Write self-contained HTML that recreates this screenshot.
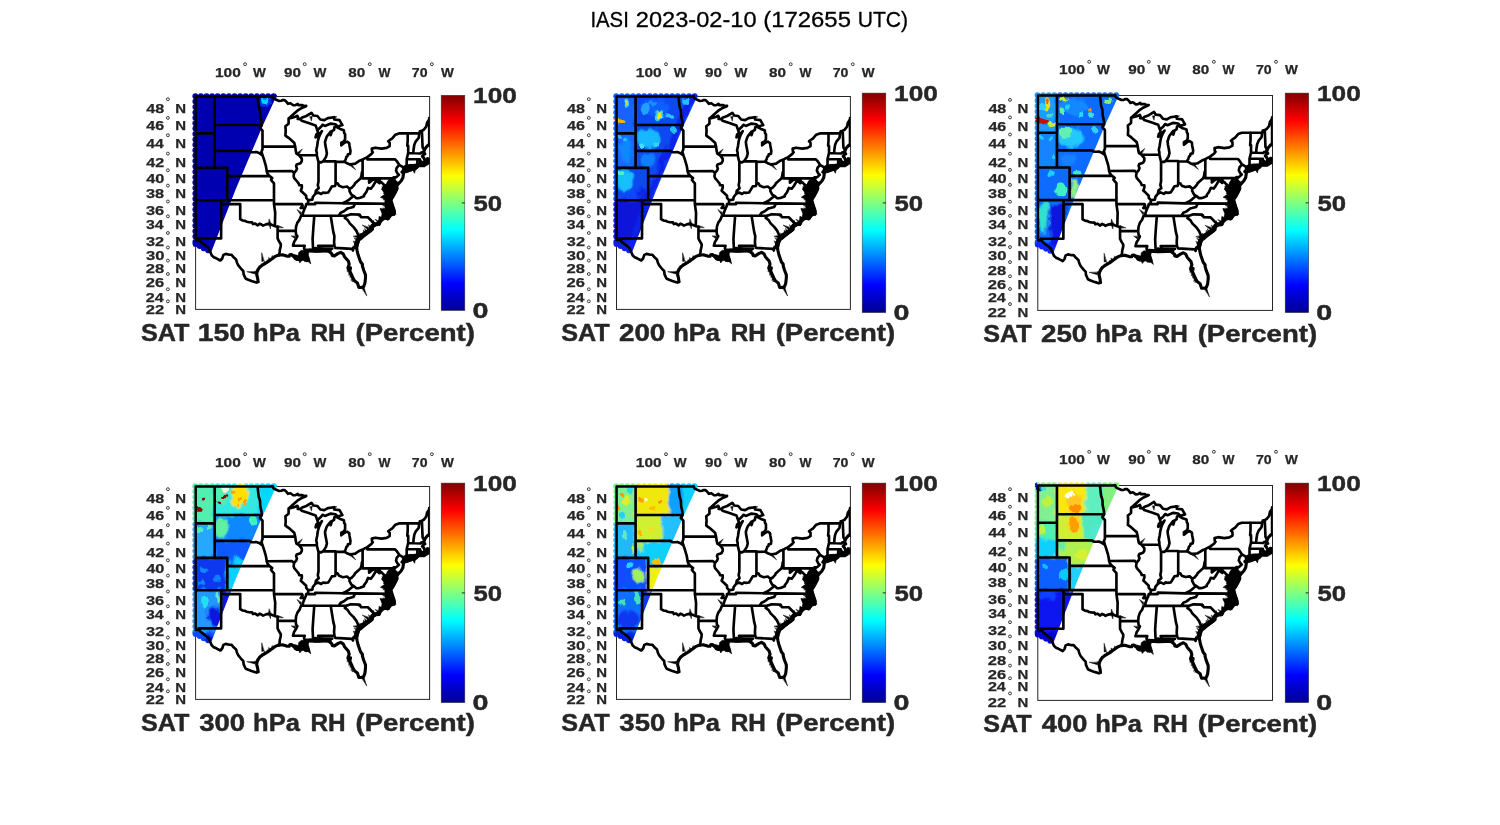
<!DOCTYPE html>
<html><head><meta charset="utf-8"><title>IASI</title>
<style>
html,body{margin:0;padding:0;background:#fff;}
body{width:1500px;height:825px;overflow:hidden;font-family:"Liberation Sans",sans-serif;}
svg{display:block;font-family:"Liberation Sans",sans-serif;}
.b{font-weight:bold;fill:#262626;stroke:#262626;stroke-width:0.45px;stroke-linejoin:round;}
.s{font-weight:bold;fill:#262626;stroke:#262626;stroke-width:0.25px;}
.t{fill:#000;stroke:#000;stroke-width:0.3px;}
</style></head><body>
<svg width="1500" height="825" viewBox="0 0 1500 825">
<defs>
<linearGradient id="jet" x1="0" y1="1" x2="0" y2="0">
<stop offset="0" stop-color="#00008f"/>
<stop offset="0.125" stop-color="#0000ff"/>
<stop offset="0.375" stop-color="#00ffff"/>
<stop offset="0.625" stop-color="#ffff00"/>
<stop offset="0.875" stop-color="#ff0000"/>
<stop offset="1" stop-color="#800000"/>
</linearGradient>
<clipPath id="clip"><rect x="194.3" y="95.0" width="235.3" height="214.4"/></clipPath>
<g id="map" clip-path="url(#clip)"><g fill="none" stroke="#000" stroke-linejoin="round" stroke-linecap="round"><path d="M195.6 96.5 270.6 96.5M195.6 96.5 195.6 240.0M429.2 118.1 429.2 145.7M195.6 133.4 214.7 133.4M214.7 96.5 214.7 167.8M214.7 125.0 261.8 125.0M214.7 150.9 249.6 150.9 251.5 152.2 253.7 152.2 256.5 152.1 259.0 152.9 260.9 154.3 262.5 155.3M195.6 167.8 227.3 167.8M227.3 167.8 227.3 200.2M227.3 176.1 269.6 176.1M195.6 200.2 274.0 200.2M221.3 200.2 221.1 238.4M221.3 204.1 240.2 204.1M240.2 204.1 240.2 219.1M220.9 238.4 198.6 238.4M195.6 240.0 199.1 240.0M198.6 238.4 199.3 240.1 201.2 242.3 205.0 245.1 208.7 248.2 210.6 252.7 211.9 255.6 213.8 257.2 216.3 258.3 220.4 260.5 222.2 258.5 223.4 254.9 225.7 253.9 229.5 254.7 231.4 254.7 233.9 257.6 236.1 259.5 237.0 262.7 238.3 265.4 241.7 269.5 243.3 271.0 243.6 274.1 245.2 277.7 245.9 278.7 248.3 279.8 251.5 281.0 254.6 281.9 256.5 282.6 258.1 281.8M278.9 255.2 279.6 252.7 279.8 250.1 280.7 246.5 280.8 244.3 279.0 241.3 277.6 238.4 277.6 226.8 274.9 226.1M240.2 219.1 242.7 220.5 245.2 220.9 246.8 221.8 249.0 222.2 252.1 222.4 253.0 224.1 254.9 223.5 257.8 225.3 259.6 223.7 261.5 224.5 263.1 225.6 265.9 224.4 268.1 223.9 270.0 224.1 272.8 225.3 274.9 226.1M274.9 226.1 275.2 212.7 274.0 204.1 274.0 200.2 274.0 183.4 272.2 181.4 271.0 179.8 272.2 178.1 269.6 176.1 267.5 173.6 266.7 171.3 266.2 167.8 265.7 165.3 264.7 161.9 263.4 157.7 262.5 155.3 261.5 151.7 262.5 149.2 262.5 146.6 262.5 130.7 260.0 128.0 261.8 125.0 261.5 121.7 260.3 116.2 260.0 110.7 258.7 106.5 258.1 101.3 257.6 96.5M262.5 146.6 295.3 146.6M266.7 171.3 292.1 171.1 294.1 173.0M274.0 204.1 302.1 204.1 302.6 205.7 300.7 208.0 304.9 208.0M277.6 230.8 295.7 230.9M295.7 230.9 296.1 234.6 297.4 236.1 295.5 239.8 294.2 241.7 293.0 245.7 304.7 245.7 304.0 248.3 305.5 251.8M314.3 215.7 313.4 227.1 312.6 239.1 313.1 250.3M330.7 215.7 333.3 231.9 334.4 236.1 334.1 242.1 334.4 245.7 335.3 247.9 352.0 248.9 353.0 250.5 353.3 247.6 356.7 247.8M334.4 245.7 318.1 245.7 319.4 248.3 318.7 250.9M301.1 215.7 346.4 215.7M306.2 204.1 315.2 204.1 315.2 202.7 342.7 203.3 355.3 203.4 391.8 203.7M355.3 203.4 353.3 207.0 349.5 208.0 347.6 208.4 343.9 211.3 340.7 212.7 338.7 215.7M346.4 215.7 350.8 214.2 359.3 214.6 359.3 215.5 360.0 215.0 361.0 217.1 367.9 217.3 375.0 224.5M346.4 215.7 344.8 218.0 347.6 219.9 349.8 223.4 353.6 227.1 356.4 230.9 358.6 235.8 360.4 238.1M289.8 117.6 288.6 118.4 288.6 123.8 285.4 126.2 285.7 130.7 285.4 135.6 288.6 137.8 291.1 140.0 294.2 142.7 295.2 146.6 295.8 150.9 296.4 153.5 299.0 155.1 301.8 158.6 301.8 161.1 300.5 163.2 296.7 164.5 296.1 166.1 297.0 168.6 296.1 170.7 294.1 173.0 293.6 176.1 294.2 178.1 296.7 181.0 298.6 183.4 299.2 185.2 301.8 185.4 301.9 187.5 300.8 190.7 303.0 192.7 306.2 195.8 306.2 197.8 308.4 200.3 308.0 203.3 306.2 204.1 305.8 206.1 304.9 208.0 303.3 211.9 302.6 214.7 301.1 215.7 299.6 219.6 297.4 222.6 296.1 226.4 295.7 230.9M299.0 155.1 316.8 155.2M318.5 161.9 318.5 181.4 317.8 185.0 318.7 188.3 315.9 190.7 315.3 193.9M323.0 161.4 335.6 161.4 335.6 161.9 344.2 161.7M335.6 161.9 335.6 183.4M362.6 170.8 361.8 172.8 361.5 175.7 360.5 178.5 357.1 181.4 354.9 183.4 354.5 184.6 352.0 187.5 349.6 188.9 347.0 186.5 342.9 187.2 339.1 185.8 337.6 183.4 335.6 183.4 335.1 186.0 331.9 186.4 329.7 190.1 328.2 192.5 325.0 192.9 323.1 192.5 321.2 194.0 318.1 192.5 315.3 193.9 312.8 197.0 312.4 199.6 308.4 200.3M362.6 159.6 362.6 178.4M362.6 178.4 392.3 178.4M349.6 188.9 349.5 191.1 351.4 194.7 353.5 195.9M353.5 195.9 348.9 199.8 346.4 201.4 342.7 203.3M353.5 195.9 356.4 198.2 358.3 198.2 360.2 197.8 364.0 196.2 364.0 195.1 366.2 192.3 368.1 187.9 370.9 188.7 373.0 186.0 376.2 180.6 379.5 183.1 380.2 181.6M380.2 181.6 379.1 179.4 376.5 179.1 373.7 179.5 371.8 180.4 369.1 182.6 369.1 178.4M380.2 181.6 381.9 182.6 383.5 184.5 384.5 185.8 382.8 189.1 384.7 189.9 389.1 192.7M270.6 96.5 272.8 96.2 273.5 98.4 276.3 99.8 279.1 101.0 281.3 100.8 282.9 100.0 284.5 100.1 286.4 101.7 287.9 103.8 290.4 103.2 293.3 105.3 295.5 105.1 297.7 103.8 298.3 105.1 302.4 105.1 304.0 106.0 306.2 105.9 305.5 106.5 301.1 108.3 297.4 110.7 294.8 113.0 292.3 115.3 289.8 117.6 290.4 118.1 295.5 116.7 297.4 115.8 298.3 118.1 297.7 119.0 300.4 119.2M318.5 161.9 318.1 160.7 316.8 155.2 316.8 152.6 316.2 150.5 317.2 145.7 317.8 141.3 318.7 137.8 320.0 134.7 321.9 131.2 319.4 134.3 317.5 136.5 315.6 137.4 316.2 134.7 318.1 132.5M318.5 161.9 321.2 162.4 323.0 161.4M344.2 161.7 345.7 159.4 346.4 156.9 347.6 156.0 347.9 154.3 350.1 153.9 350.5 150.9 349.5 145.7 349.2 143.1 347.0 141.6 344.5 142.7 341.3 145.3 341.3 142.7 343.9 141.3 345.1 139.2 345.1 134.3 344.2 133.0 343.9 130.3 340.1 128.9 337.6 127.6 336.0 126.4 334.4 127.1 334.1 129.8 331.9 131.2 330.7 135.2 331.3 133.4 330.7 131.6 328.5 134.3 327.5 135.6 326.6 136.9 325.0 141.8 325.3 144.8 326.3 150.0 326.9 153.5 326.0 156.9 324.4 159.4 323.0 161.4M344.2 161.7 346.4 162.8 347.6 163.6 350.1 164.5 355.2 163.6 359.6 160.7 362.6 159.6 365.2 158.1 367.4 157.1 371.5 153.9 372.8 152.2 372.1 151.7 371.8 148.6 375.3 147.7 381.6 148.6 386.6 147.9 389.7 146.1 389.7 142.7 388.2 141.3 389.1 140.5 392.3 138.3 395.4 134.7 399.0 133.4 419.3 133.3 419.9 131.2 421.9 130.7 423.7 129.8 426.2 126.7 427.1 122.6 428.4 120.8 429.7 118.1M367.4 157.1 367.4 159.4 395.1 159.4 396.7 161.1 399.2 164.8 396.7 167.8 396.0 170.7 397.6 173.6 398.9 174.8 396.7 176.9 394.8 177.7 393.5 177.4 392.3 178.4 392.9 188.6 397.0 188.7M399.2 164.8 404.2 167.8 403.4 170.7M413.3 153.2 413.6 149.2 414.3 144.8 415.8 141.3 418.7 137.8 419.3 133.3M407.7 133.3 407.7 140.5 407.3 145.7 408.2 145.7 408.2 153.0 406.7 159.0 406.7 165.3 405.3 167.0 405.8 167.8M408.2 153.0 420.5 153.5 421.2 152.6 423.6 152.0M406.7 159.0 417.4 159.2 420.0 159.2 420.0 160.3 421.2 161.9 421.7 163.6M417.4 159.2 417.4 164.5 417.1 165.1M424.3 150.3 422.6 147.4 421.9 130.7M300.4 119.2 301.6 117.8 306.3 116.0 311.5 112.8 313.3 115.5 317.4 116.0 320.3 119.5 324.3 120.1 327.8 118.1 334.2 117.2 334.2 119.5 339.5 120.1 342.4 125.1 337.7 126.5M317.9 129.7 320.8 127.1 322.6 124.8 324.9 125.9 330.7 123.6 335.4 124.2 337.7 126.5M300.4 119.2 301.6 120.7 308.6 123.0 315.6 125.4 318.1 132.5" stroke-width="2.65"/><path d="M258.1 281.8 257.6 278.0 256.7 274.5 257.1 271.7 258.7 268.6 260.3 266.7 262.8 264.8 265.3 263.3 268.4 261.5 271.0 259.5 273.3 257.9 274.7 256.7 277.2 255.6 278.9 255.2M278.9 255.2 282.3 254.7 286.7 256.1 289.2 256.3 289.8 254.8 291.4 254.5 293.0 255.9 294.5 256.7 295.2 258.5 297.4 259.5 300.5 259.5 302.4 259.2 303.6 258.1 305.5 258.5 306.8 260.6 308.4 260.3 307.7 258.1 306.2 255.9 306.8 254.5 307.4 252.7 305.5 251.8 307.4 250.9 309.9 250.1 313.1 250.3 315.0 251.2 315.3 248.3 316.2 248.3 317.2 250.9 318.7 251.0 320.6 250.6 325.0 250.3 328.2 250.9 330.0 252.3 331.9 253.8 332.2 255.4 334.4 255.9 338.2 253.4 340.7 252.3 343.2 253.8 344.5 256.7 346.7 259.2 348.3 261.0 349.2 264.2 347.9 268.1 348.9 269.9 350.5 267.8 349.8 271.0 351.7 275.2 353.0 278.0 354.5 280.8 357.4 282.9 358.9 287.5 360.2 287.5 363.3 287.1 364.0 285.7 364.9 283.3 365.5 278.0 365.5 274.9 363.7 270.3 362.4 266.0 362.4 264.2 360.5 261.7 358.0 254.5 357.1 250.5 356.7 247.8 357.1 245.0 358.0 242.1 358.9 239.5 360.4 238.1 363.0 235.8 366.2 233.2 370.3 230.2 371.2 228.7 372.5 226.0 375.0 224.5 378.7 224.5 379.7 221.8 383.5 218.8 386.9 218.0 387.7 218.8 391.0 215.0 394.0 214.0 394.3 211.1 392.9 207.2 391.8 203.7 391.0 200.7 389.1 200.6 388.8 199.4 389.1 195.8 389.1 193.1 388.5 189.9 387.9 185.0 388.2 182.6 390.4 179.8 391.3 180.2 389.7 184.2 389.1 187.5 391.0 190.7 391.9 192.7 391.3 196.2 391.0 199.0 391.6 198.6 393.5 195.4 395.4 192.3 397.0 188.7 396.7 185.8 394.8 182.6 393.8 180.2 394.1 178.5 394.8 177.7M394.1 180.2 395.4 181.8 397.6 184.8 401.1 181.0 402.9 177.7 403.6 172.8 402.0 172.0 403.3 170.7 403.9 169.5 405.8 167.8 409.2 166.6 410.5 165.7 414.3 165.6 417.1 165.1 419.3 164.7 419.9 164.1 419.9 161.1 421.2 163.6 421.7 163.6 423.1 163.2 424.6 161.5 424.6 163.2 428.7 162.2 429.0 161.9 429.0 159.8 428.4 159.0 427.5 158.7 428.4 160.3 428.7 161.1 425.6 161.4 424.6 159.4 423.4 157.3 422.4 156.4 423.4 154.7 424.9 153.9 423.7 152.2 424.3 150.3 425.3 148.3 427.5 145.7 429.7 144.4M403.6 171.3 408.0 170.9 413.0 169.1 416.8 167.4 414.3 167.0 412.4 168.2 409.9 168.1 406.1 168.6 404.8 169.5 403.6 171.3" stroke-width="3.1"/><path d="M371.6 229.2 365.7 233.2 359.9 236.7 357.6 240.8 355.8 247.2" stroke-width="4.6"/><path d="M306.1 250.4 316.6 250.7 329.9 250.4" stroke-width="4.0"/><path d="M318.5 248.3 325.0 248.5 332.3 248.6" stroke-width="2.6"/><path d="M360.4 238.1 363.0 235.8 366.2 233.2 370.3 230.2 371.2 228.7 372.5 226.0 375.0 224.5" stroke-width="4.4"/><path d="M261.7 253.1L261.8 261.4L263.9 261.1ZM247.1 271.8L255.1 274.0L255.4 271.8ZM269.0 219.2L268.6 223.7L270.8 223.4ZM270.5 228.4L270.8 223.4L268.6 223.8ZM283.1 227.5L277.5 225.4L277.1 227.6ZM366.7 295.7L363.9 287.1L361.9 288.1ZM355.5 169.5L350.5 162.9L348.9 164.4ZM302.0 149.2L297.3 152.8L299.0 154.3ZM297.2 209.8L300.3 214.5L301.8 212.9ZM291.5 236.1L294.7 238.4L295.4 236.3ZM362.5 225.3L367.7 229.5L368.8 227.6ZM353.5 236.4L357.5 237.8L357.7 235.6ZM311.5 120.7L312.2 116.5L310.0 116.7ZM336.6 116.7L332.8 116.4L333.3 118.6ZM353.2 246.2L356.3 248.8L357.2 246.8ZM353.8 242.7L356.3 246.2L357.7 244.5ZM353.3 241.3L357.1 244.4L358.1 242.5ZM354.2 238.1L357.6 242.1L359.0 240.4ZM359.5 235.2L358.4 239.0L360.6 238.9ZM359.8 233.2L360.7 237.5L362.7 236.4ZM363.5 230.3L363.2 234.9L365.4 234.5ZM364.7 228.7L365.6 233.3L367.6 232.3ZM368.3 228.8L367.9 231.4L370.0 230.8ZM368.6 225.1L370.3 229.3L372.1 228.0ZM373.5 220.8L371.8 225.6L374.0 225.9ZM377.5 221.8L374.3 223.8L375.9 225.2ZM380.4 222.6L377.8 223.7L379.4 225.3ZM375.3 219.6L378.7 223.5L380.1 221.8ZM380.8 217.6L379.9 220.9L382.1 220.6ZM382.3 215.8L382.1 219.3L384.2 218.7ZM382.6 213.8L384.6 217.3L386.1 215.7ZM382.8 212.4L386.3 214.3L386.8 212.2ZM382.9 208.2L385.1 210.8L386.2 208.8ZM382.9 205.6L386.8 207.5L387.3 205.4ZM384.0 204.1L386.6 205.4L386.7 203.2ZM385.9 200.2L386.8 202.3L388.1 200.6ZM383.3 199.8L387.7 200.2L387.3 198.1ZM382.6 196.8L386.7 196.9L386.2 194.8ZM383.5 193.5L385.7 194.8L385.9 192.6ZM383.2 190.5L384.8 192.8L385.9 190.9ZM382.0 187.0L384.7 190.3L386.0 188.6ZM383.2 184.6L384.8 187.7L386.3 186.2ZM347.6 271.8L349.5 270.8L347.6 269.7ZM349.0 275.1L350.9 273.1L348.9 272.3ZM350.3 277.1L352.1 275.0L350.0 274.3ZM351.0 277.6L352.9 276.8L351.1 275.5ZM351.3 280.4L353.9 278.3L352.0 277.1ZM352.4 281.7L354.8 279.9L352.9 278.8ZM255.0 271.4L255.9 273.3L257.1 271.5ZM256.8 269.1L256.7 270.8L258.4 269.3ZM259.0 266.0L258.3 267.6L260.4 267.0ZM261.7 263.8L260.9 265.3L263.0 264.8ZM264.3 261.6L263.6 263.7L265.7 263.3ZM267.0 260.1L267.0 262.1L268.8 260.8ZM268.6 257.8L269.0 260.6L270.9 259.5ZM272.0 255.9L271.6 258.0L273.6 257.2Z" fill="#000" stroke-width="0.5"/><path d="M382.1 182.8 385.8 184.6 388.3 181.4 393.7 180.0 395.0 181.8 399.6 182.1 398.0 185.6 397.5 190.4 396.4 191.4 394.4 196.5 391.9 199.9 393.4 204.4 394.9 209.0 395.9 214.6 392.4 212.3 390.9 215.7 389.4 219.4 381.4 219.4 382.9 213.4 380.4 208.4 383.4 209.0 385.9 209.0 385.9 204.4 386.9 202.7 385.4 199.4 380.4 197.3 384.9 194.2 381.9 189.2 383.4 186.4ZM385.0 200.5 391.3 200.5 392.3 206.7 394.8 215.7 390.8 213.4 389.9 216.8 387.4 219.6 383.0 219.1 381.6 221.9 380.1 225.3 376.7 225.9 374.7 223.6 378.6 221.3 379.1 216.3 381.6 217.4 382.0 213.4 380.1 208.6 382.5 210.6 385.0 209.5ZM298.8 252.4 301.4 250.3 307.2 250.8 308.2 254.5 309.3 258.2 310.8 263.9 307.2 260.8 305.1 261.8 302.5 259.7 299.8 262.9 298.8 260.3 296.2 259.7 293.0 257.6 289.4 254.0 294.1 254.5 298.3 255.5ZM402.4 173.3 402.4 166.9 406.4 164.5 416.9 164.3 421.6 161.6 429.1 158.7 429.1 164.0 424.5 166.9 419.2 166.9 415.2 170.4 414.6 173.3 412.8 170.4 406.4 172.7Z" fill="#000" stroke-width="0.6"/></g></g>
<clipPath id="sw"><path d="M195.3 95.0 277.0 95.0 262.6 126.0 235.4 190.0 223.3 221.0 210.8 253.3 195.3 245.6Z"/><circle cx="195.4" cy="96.2" r="3"/><circle cx="195.4" cy="101.6" r="3"/><circle cx="195.4" cy="107.0" r="3"/><circle cx="195.4" cy="112.4" r="3"/><circle cx="195.4" cy="117.8" r="3"/><circle cx="195.4" cy="123.2" r="3"/><circle cx="195.4" cy="128.6" r="3"/><circle cx="195.4" cy="134.0" r="3"/><circle cx="195.4" cy="139.4" r="3"/><circle cx="195.4" cy="144.8" r="3"/><circle cx="195.4" cy="150.2" r="3"/><circle cx="195.4" cy="155.6" r="3"/><circle cx="195.4" cy="161.0" r="3"/><circle cx="195.4" cy="166.4" r="3"/><circle cx="195.4" cy="171.8" r="3"/><circle cx="195.4" cy="177.2" r="3"/><circle cx="195.4" cy="182.6" r="3"/><circle cx="195.4" cy="188.0" r="3"/><circle cx="195.4" cy="193.4" r="3"/><circle cx="195.4" cy="198.8" r="3"/><circle cx="195.4" cy="204.2" r="3"/><circle cx="195.4" cy="209.6" r="3"/><circle cx="195.4" cy="215.0" r="3"/><circle cx="195.4" cy="220.4" r="3"/><circle cx="195.4" cy="225.8" r="3"/><circle cx="195.4" cy="231.2" r="3"/><circle cx="195.4" cy="236.6" r="3"/><circle cx="195.4" cy="242.0" r="3"/><circle cx="200.9" cy="96.3" r="3"/><circle cx="206.5" cy="96.3" r="3"/><circle cx="212.1" cy="96.3" r="3"/><circle cx="217.7" cy="96.3" r="3"/><circle cx="223.3" cy="96.3" r="3"/><circle cx="228.9" cy="96.3" r="3"/><circle cx="234.5" cy="96.3" r="3"/><circle cx="240.1" cy="96.3" r="3"/><circle cx="245.7" cy="96.3" r="3"/><circle cx="251.3" cy="96.3" r="3"/><circle cx="256.9" cy="96.3" r="3"/><circle cx="262.5" cy="96.3" r="3"/><circle cx="268.1" cy="96.3" r="3"/><circle cx="273.7" cy="96.3" r="3"/><circle cx="195.6" cy="244.0" r="3"/><circle cx="199.7" cy="246.1" r="3"/><circle cx="203.8" cy="248.2" r="3"/><circle cx="208.1" cy="250.3" r="3"/></clipPath><filter id="b1" x="-20%" y="-20%" width="140%" height="140%"><feGaussianBlur stdDeviation="0.7" result="g"/><feTurbulence type="fractalNoise" baseFrequency="0.16 0.11" numOctaves="2" seed="4" result="n"/><feDisplacementMap in="g" in2="n" scale="7" xChannelSelector="R" yChannelSelector="G"/></filter><filter id="b2" x="-20%" y="-20%" width="140%" height="140%"><feGaussianBlur stdDeviation="1.3" result="g"/><feTurbulence type="fractalNoise" baseFrequency="0.13 0.09" numOctaves="2" seed="11" result="n"/><feDisplacementMap in="g" in2="n" scale="9" xChannelSelector="R" yChannelSelector="G"/></filter>
</defs>
<rect width="{W}" height="{H}" fill="#fff"/>
<g opacity="0.999">
<text class="t" x="590.41" y="26.60" font-size="21.90" textLength="38.43" lengthAdjust="spacingAndGlyphs">IASI</text>
<text class="t" x="635.89" y="26.60" font-size="21.90" textLength="120.69" lengthAdjust="spacingAndGlyphs">2023-02-10</text>
<text class="t" x="763.28" y="26.60" font-size="21.90" textLength="87.69" lengthAdjust="spacingAndGlyphs">(172655</text>
<text class="t" x="857.68" y="26.60" font-size="21.90" textLength="50.41" lengthAdjust="spacingAndGlyphs">UTC)</text>

<g id="p1">
<rect x="195.6" y="96.5" width="234.0" height="212.9" fill="#fff" stroke="#262626" stroke-width="1"/>
<rect x="441.2" y="95.3" width="23.6" height="215.2" fill="url(#jet)" stroke="#262626" stroke-width="0.6" stroke-opacity="0.8"/>
<g transform="translate(-0.00 0.00) scale(1.0000 1.0000)"><g clip-path="url(#sw)"><g filter="url(#b2)"><rect x="188" y="88" width="95" height="170" fill="#0000b0"/></g><g filter="url(#b1)"><ellipse cx="265.2" cy="101.8" rx="6.2" ry="5.4" fill="#0030f0"/><ellipse cx="264.8" cy="100.6" rx="3.7" ry="3.2" fill="#00d0ff"/><ellipse cx="222.0" cy="118.0" rx="5" ry="3" fill="#0000c0" opacity="0.7"/><ellipse cx="205.0" cy="215.0" rx="6" ry="14" fill="#0000b8" opacity="0.6"/></g></g><use href="#map"/></g>
<text class="b" x="473.06" y="103.10" font-size="22.19" textLength="43.80" lengthAdjust="spacingAndGlyphs">100</text>
<text class="b" x="473.50" y="210.70" font-size="22.19" textLength="28.65" lengthAdjust="spacingAndGlyphs">50</text>
<text class="b" x="472.40" y="318.30" font-size="22.19" textLength="15.96" lengthAdjust="spacingAndGlyphs">0</text>
<path d="M464.8 202.9h-3" stroke="#262626" stroke-width="1"/>
<text class="b" x="141.01" y="340.80" font-size="23.04" textLength="48.43" lengthAdjust="spacingAndGlyphs">SAT</text>
<text class="b" x="197.83" y="340.80" font-size="23.04" textLength="47.32" lengthAdjust="spacingAndGlyphs">150</text>
<text class="b" x="253.11" y="340.80" font-size="23.04" textLength="46.73" lengthAdjust="spacingAndGlyphs">hPa</text>
<text class="b" x="310.48" y="340.80" font-size="23.04" textLength="35.12" lengthAdjust="spacingAndGlyphs">RH</text>
<text class="b" x="355.51" y="340.80" font-size="23.04" textLength="119.39" lengthAdjust="spacingAndGlyphs">(Percent)</text>
<text class="s" x="214.93" y="76.70" font-size="13.08" textLength="25.90" lengthAdjust="spacingAndGlyphs">100</text>
<text class="s" x="252.90" y="76.70" font-size="13.08" textLength="12.87" lengthAdjust="spacingAndGlyphs">W</text>
<circle cx="245.1" cy="64.2" r="1.45" fill="none" stroke="#262626" stroke-width="0.9"/>
<text class="s" x="284.12" y="76.70" font-size="13.08" textLength="17.00" lengthAdjust="spacingAndGlyphs">90</text>
<text class="s" x="313.50" y="76.70" font-size="13.08" textLength="12.87" lengthAdjust="spacingAndGlyphs">W</text>
<circle cx="304.7" cy="64.2" r="1.45" fill="none" stroke="#262626" stroke-width="0.9"/>
<text class="s" x="348.22" y="76.70" font-size="13.08" textLength="17.00" lengthAdjust="spacingAndGlyphs">80</text>
<text class="s" x="378.50" y="76.70" font-size="13.08" textLength="11.98" lengthAdjust="spacingAndGlyphs">W</text>
<circle cx="369.8" cy="64.2" r="1.45" fill="none" stroke="#262626" stroke-width="0.9"/>
<text class="s" x="411.86" y="76.70" font-size="13.08" textLength="15.71" lengthAdjust="spacingAndGlyphs">70</text>
<text class="s" x="440.90" y="76.70" font-size="13.08" textLength="12.87" lengthAdjust="spacingAndGlyphs">W</text>
<circle cx="431.9" cy="64.2" r="1.45" fill="none" stroke="#262626" stroke-width="0.9"/>
<text class="s" x="146.20" y="112.90" font-size="13.08" textLength="17.90" lengthAdjust="spacingAndGlyphs">48</text>
<text class="s" x="175.36" y="112.90" font-size="13.08" textLength="10.82" lengthAdjust="spacingAndGlyphs">N</text>
<circle cx="167.9" cy="99.2" r="1.45" fill="none" stroke="#262626" stroke-width="0.9"/>
<text class="s" x="146.20" y="130.40" font-size="13.08" textLength="17.90" lengthAdjust="spacingAndGlyphs">46</text>
<text class="s" x="175.36" y="130.40" font-size="13.08" textLength="10.82" lengthAdjust="spacingAndGlyphs">N</text>
<circle cx="167.9" cy="117.9" r="1.45" fill="none" stroke="#262626" stroke-width="0.9"/>
<text class="s" x="146.20" y="147.70" font-size="13.08" textLength="17.40" lengthAdjust="spacingAndGlyphs">44</text>
<text class="s" x="175.36" y="147.70" font-size="13.08" textLength="10.82" lengthAdjust="spacingAndGlyphs">N</text>
<circle cx="167.9" cy="135.2" r="1.45" fill="none" stroke="#262626" stroke-width="0.9"/>
<text class="s" x="146.20" y="166.70" font-size="13.08" textLength="17.90" lengthAdjust="spacingAndGlyphs">42</text>
<text class="s" x="175.36" y="166.70" font-size="13.08" textLength="10.82" lengthAdjust="spacingAndGlyphs">N</text>
<circle cx="167.9" cy="153.6" r="1.45" fill="none" stroke="#262626" stroke-width="0.9"/>
<text class="s" x="146.20" y="182.80" font-size="13.08" textLength="18.16" lengthAdjust="spacingAndGlyphs">40</text>
<text class="s" x="175.36" y="182.80" font-size="13.08" textLength="10.82" lengthAdjust="spacingAndGlyphs">N</text>
<circle cx="167.9" cy="170.3" r="1.45" fill="none" stroke="#262626" stroke-width="0.9"/>
<text class="s" x="145.94" y="197.90" font-size="13.08" textLength="18.16" lengthAdjust="spacingAndGlyphs">38</text>
<text class="s" x="175.36" y="197.90" font-size="13.08" textLength="10.82" lengthAdjust="spacingAndGlyphs">N</text>
<circle cx="167.9" cy="185.6" r="1.45" fill="none" stroke="#262626" stroke-width="0.9"/>
<text class="s" x="145.94" y="214.60" font-size="13.08" textLength="18.16" lengthAdjust="spacingAndGlyphs">36</text>
<text class="s" x="175.36" y="214.60" font-size="13.08" textLength="10.82" lengthAdjust="spacingAndGlyphs">N</text>
<circle cx="167.9" cy="201.5" r="1.45" fill="none" stroke="#262626" stroke-width="0.9"/>
<text class="s" x="145.95" y="228.60" font-size="13.08" textLength="17.65" lengthAdjust="spacingAndGlyphs">34</text>
<text class="s" x="175.36" y="228.60" font-size="13.08" textLength="10.82" lengthAdjust="spacingAndGlyphs">N</text>
<circle cx="167.9" cy="216.3" r="1.45" fill="none" stroke="#262626" stroke-width="0.9"/>
<text class="s" x="145.94" y="246.10" font-size="13.08" textLength="18.16" lengthAdjust="spacingAndGlyphs">32</text>
<text class="s" x="175.36" y="246.10" font-size="13.08" textLength="10.82" lengthAdjust="spacingAndGlyphs">N</text>
<circle cx="167.9" cy="233.0" r="1.45" fill="none" stroke="#262626" stroke-width="0.9"/>
<text class="s" x="145.94" y="260.10" font-size="13.08" textLength="18.43" lengthAdjust="spacingAndGlyphs">30</text>
<text class="s" x="175.36" y="260.10" font-size="13.08" textLength="10.82" lengthAdjust="spacingAndGlyphs">N</text>
<circle cx="167.9" cy="247.5" r="1.45" fill="none" stroke="#262626" stroke-width="0.9"/>
<text class="s" x="145.68" y="273.20" font-size="13.08" textLength="18.43" lengthAdjust="spacingAndGlyphs">28</text>
<text class="s" x="175.36" y="273.20" font-size="13.08" textLength="10.82" lengthAdjust="spacingAndGlyphs">N</text>
<circle cx="167.9" cy="260.6" r="1.45" fill="none" stroke="#262626" stroke-width="0.9"/>
<text class="s" x="145.68" y="287.40" font-size="13.08" textLength="18.43" lengthAdjust="spacingAndGlyphs">26</text>
<text class="s" x="175.36" y="287.40" font-size="13.08" textLength="10.82" lengthAdjust="spacingAndGlyphs">N</text>
<circle cx="167.9" cy="274.0" r="1.45" fill="none" stroke="#262626" stroke-width="0.9"/>
<text class="s" x="145.70" y="301.90" font-size="13.08" textLength="17.90" lengthAdjust="spacingAndGlyphs">24</text>
<text class="s" x="175.36" y="301.90" font-size="13.08" textLength="10.82" lengthAdjust="spacingAndGlyphs">N</text>
<circle cx="167.9" cy="289.3" r="1.45" fill="none" stroke="#262626" stroke-width="0.9"/>
<text class="s" x="145.68" y="314.40" font-size="13.08" textLength="18.43" lengthAdjust="spacingAndGlyphs">22</text>
<text class="s" x="175.36" y="314.40" font-size="13.08" textLength="10.82" lengthAdjust="spacingAndGlyphs">N</text>
<circle cx="167.9" cy="301.3" r="1.45" fill="none" stroke="#262626" stroke-width="0.9"/>
</g>
<g id="p2">
<rect x="616.5" y="96.5" width="233.9" height="212.9" fill="#fff" stroke="#262626" stroke-width="1"/>
<rect x="862.2" y="93.1" width="23.6" height="219.5" fill="url(#jet)" stroke="#262626" stroke-width="0.6" stroke-opacity="0.8"/>
<g transform="translate(420.98 0.00) scale(0.9996 1.0000)"><g clip-path="url(#sw)"><g filter="url(#b2)"><rect x="188" y="88" width="95" height="170" fill="#0a48f0"/><rect x="190" y="200.2" width="31.2" height="41.4" fill="#0818d8"/><rect x="190" y="241.6" width="35.0" height="14.4" fill="#0a20e0"/><rect x="221.2" y="200.2" width="13.8" height="41.4" fill="#0818d8"/><rect x="190" y="90" width="24.7" height="43.4" fill="#1264ff"/><rect x="190" y="133.4" width="24.7" height="34.4" fill="#1468ff"/><ellipse cx="235.0" cy="108.0" rx="14" ry="9" fill="#1060ff"/><ellipse cx="228.2" cy="137.8" rx="11" ry="10" fill="#18b8ff"/><ellipse cx="205.0" cy="150.0" rx="6" ry="13" fill="#1088ff"/><ellipse cx="227.0" cy="160.0" rx="8" ry="7" fill="#1080ff"/><ellipse cx="204.2" cy="181.3" rx="8" ry="11" fill="#18c0ff"/><ellipse cx="222.0" cy="194.0" rx="8" ry="6" fill="#0828f0"/><path d="M277.9 90.0 262.6 126.0 235.4 190.0 223.3 221.0 209.7 256.0 201.7 256.0 215.3 221.0 227.4 190.0 254.6 126.0 269.9 90.0Z" fill="#1020e8" opacity="1"/></g><g filter="url(#b1)"><ellipse cx="224.4" cy="108.4" rx="4.5" ry="6" fill="#20a0ff"/><ellipse cx="238.5" cy="115.4" rx="5" ry="6" fill="#30c8ff"/><ellipse cx="238.5" cy="115.4" rx="3.0" ry="4.2" fill="#e8e820"/><ellipse cx="205.3" cy="102.9" rx="3" ry="4.5" fill="#40c0ff"/><ellipse cx="205.3" cy="102.9" rx="1.6" ry="2.8" fill="#c8e040"/><ellipse cx="198.5" cy="121.0" rx="6.5" ry="1.7" fill="#ffb000" transform="rotate(10 198.5 121.0)"/><ellipse cx="193.6" cy="119.8" rx="2.2" ry="1.6" fill="#ff7000"/><ellipse cx="249.5" cy="116.0" rx="5" ry="2.2" fill="#30c0ff" transform="rotate(20 249.5 116.0)"/><ellipse cx="265.2" cy="101.3" rx="4" ry="3.5" fill="#20c0ff"/><ellipse cx="252.2" cy="129.6" rx="3" ry="2.5" fill="#20c0ff"/><ellipse cx="199.8" cy="173.2" rx="3.2" ry="3" fill="#50f0d0"/><ellipse cx="203.0" cy="140.0" rx="3" ry="2.2" fill="#28c0ff"/><ellipse cx="198.0" cy="137.0" rx="2.5" ry="2" fill="#28c0ff"/><ellipse cx="232.0" cy="103.0" rx="4" ry="2.5" fill="#1890ff"/><ellipse cx="221.0" cy="146.0" rx="3" ry="2.5" fill="#40e0ff"/><ellipse cx="236.0" cy="144.0" rx="3.5" ry="2.5" fill="#30d0ff"/></g></g><use href="#map"/></g>
<text class="b" x="894.06" y="100.90" font-size="22.19" textLength="43.80" lengthAdjust="spacingAndGlyphs">100</text>
<text class="b" x="894.50" y="210.65" font-size="22.19" textLength="28.65" lengthAdjust="spacingAndGlyphs">50</text>
<text class="b" x="893.40" y="320.40" font-size="22.19" textLength="15.96" lengthAdjust="spacingAndGlyphs">0</text>
<path d="M885.8 202.9h-3" stroke="#262626" stroke-width="1"/>
<text class="b" x="561.21" y="340.80" font-size="23.04" textLength="48.43" lengthAdjust="spacingAndGlyphs">SAT</text>
<text class="b" x="618.93" y="340.80" font-size="23.04" textLength="46.40" lengthAdjust="spacingAndGlyphs">200</text>
<text class="b" x="673.31" y="340.80" font-size="23.04" textLength="46.73" lengthAdjust="spacingAndGlyphs">hPa</text>
<text class="b" x="730.68" y="340.80" font-size="23.04" textLength="35.12" lengthAdjust="spacingAndGlyphs">RH</text>
<text class="b" x="775.71" y="340.80" font-size="23.04" textLength="119.39" lengthAdjust="spacingAndGlyphs">(Percent)</text>
<text class="s" x="635.83" y="76.70" font-size="13.08" textLength="25.90" lengthAdjust="spacingAndGlyphs">100</text>
<text class="s" x="673.80" y="76.70" font-size="13.08" textLength="12.87" lengthAdjust="spacingAndGlyphs">W</text>
<circle cx="666.0" cy="64.2" r="1.45" fill="none" stroke="#262626" stroke-width="0.9"/>
<text class="s" x="705.02" y="76.70" font-size="13.08" textLength="17.00" lengthAdjust="spacingAndGlyphs">90</text>
<text class="s" x="734.40" y="76.70" font-size="13.08" textLength="12.87" lengthAdjust="spacingAndGlyphs">W</text>
<circle cx="725.6" cy="64.2" r="1.45" fill="none" stroke="#262626" stroke-width="0.9"/>
<text class="s" x="769.12" y="76.70" font-size="13.08" textLength="17.00" lengthAdjust="spacingAndGlyphs">80</text>
<text class="s" x="799.40" y="76.70" font-size="13.08" textLength="11.98" lengthAdjust="spacingAndGlyphs">W</text>
<circle cx="790.7" cy="64.2" r="1.45" fill="none" stroke="#262626" stroke-width="0.9"/>
<text class="s" x="832.76" y="76.70" font-size="13.08" textLength="15.71" lengthAdjust="spacingAndGlyphs">70</text>
<text class="s" x="861.80" y="76.70" font-size="13.08" textLength="12.87" lengthAdjust="spacingAndGlyphs">W</text>
<circle cx="852.8" cy="64.2" r="1.45" fill="none" stroke="#262626" stroke-width="0.9"/>
<text class="s" x="567.10" y="112.90" font-size="13.08" textLength="17.90" lengthAdjust="spacingAndGlyphs">48</text>
<text class="s" x="596.26" y="112.90" font-size="13.08" textLength="10.82" lengthAdjust="spacingAndGlyphs">N</text>
<circle cx="588.8" cy="99.2" r="1.45" fill="none" stroke="#262626" stroke-width="0.9"/>
<text class="s" x="567.10" y="130.40" font-size="13.08" textLength="17.90" lengthAdjust="spacingAndGlyphs">46</text>
<text class="s" x="596.26" y="130.40" font-size="13.08" textLength="10.82" lengthAdjust="spacingAndGlyphs">N</text>
<circle cx="588.8" cy="117.9" r="1.45" fill="none" stroke="#262626" stroke-width="0.9"/>
<text class="s" x="567.10" y="147.70" font-size="13.08" textLength="17.40" lengthAdjust="spacingAndGlyphs">44</text>
<text class="s" x="596.26" y="147.70" font-size="13.08" textLength="10.82" lengthAdjust="spacingAndGlyphs">N</text>
<circle cx="588.8" cy="135.2" r="1.45" fill="none" stroke="#262626" stroke-width="0.9"/>
<text class="s" x="567.10" y="166.70" font-size="13.08" textLength="17.90" lengthAdjust="spacingAndGlyphs">42</text>
<text class="s" x="596.26" y="166.70" font-size="13.08" textLength="10.82" lengthAdjust="spacingAndGlyphs">N</text>
<circle cx="588.8" cy="153.6" r="1.45" fill="none" stroke="#262626" stroke-width="0.9"/>
<text class="s" x="567.10" y="182.80" font-size="13.08" textLength="18.16" lengthAdjust="spacingAndGlyphs">40</text>
<text class="s" x="596.26" y="182.80" font-size="13.08" textLength="10.82" lengthAdjust="spacingAndGlyphs">N</text>
<circle cx="588.8" cy="170.3" r="1.45" fill="none" stroke="#262626" stroke-width="0.9"/>
<text class="s" x="566.84" y="197.90" font-size="13.08" textLength="18.16" lengthAdjust="spacingAndGlyphs">38</text>
<text class="s" x="596.26" y="197.90" font-size="13.08" textLength="10.82" lengthAdjust="spacingAndGlyphs">N</text>
<circle cx="588.8" cy="185.6" r="1.45" fill="none" stroke="#262626" stroke-width="0.9"/>
<text class="s" x="566.84" y="214.60" font-size="13.08" textLength="18.16" lengthAdjust="spacingAndGlyphs">36</text>
<text class="s" x="596.26" y="214.60" font-size="13.08" textLength="10.82" lengthAdjust="spacingAndGlyphs">N</text>
<circle cx="588.8" cy="201.5" r="1.45" fill="none" stroke="#262626" stroke-width="0.9"/>
<text class="s" x="566.85" y="228.60" font-size="13.08" textLength="17.65" lengthAdjust="spacingAndGlyphs">34</text>
<text class="s" x="596.26" y="228.60" font-size="13.08" textLength="10.82" lengthAdjust="spacingAndGlyphs">N</text>
<circle cx="588.8" cy="216.3" r="1.45" fill="none" stroke="#262626" stroke-width="0.9"/>
<text class="s" x="566.84" y="246.10" font-size="13.08" textLength="18.16" lengthAdjust="spacingAndGlyphs">32</text>
<text class="s" x="596.26" y="246.10" font-size="13.08" textLength="10.82" lengthAdjust="spacingAndGlyphs">N</text>
<circle cx="588.8" cy="233.0" r="1.45" fill="none" stroke="#262626" stroke-width="0.9"/>
<text class="s" x="566.84" y="260.10" font-size="13.08" textLength="18.43" lengthAdjust="spacingAndGlyphs">30</text>
<text class="s" x="596.26" y="260.10" font-size="13.08" textLength="10.82" lengthAdjust="spacingAndGlyphs">N</text>
<circle cx="588.8" cy="247.5" r="1.45" fill="none" stroke="#262626" stroke-width="0.9"/>
<text class="s" x="566.58" y="273.20" font-size="13.08" textLength="18.43" lengthAdjust="spacingAndGlyphs">28</text>
<text class="s" x="596.26" y="273.20" font-size="13.08" textLength="10.82" lengthAdjust="spacingAndGlyphs">N</text>
<circle cx="588.8" cy="260.6" r="1.45" fill="none" stroke="#262626" stroke-width="0.9"/>
<text class="s" x="566.58" y="287.40" font-size="13.08" textLength="18.43" lengthAdjust="spacingAndGlyphs">26</text>
<text class="s" x="596.26" y="287.40" font-size="13.08" textLength="10.82" lengthAdjust="spacingAndGlyphs">N</text>
<circle cx="588.8" cy="274.0" r="1.45" fill="none" stroke="#262626" stroke-width="0.9"/>
<text class="s" x="566.60" y="301.90" font-size="13.08" textLength="17.90" lengthAdjust="spacingAndGlyphs">24</text>
<text class="s" x="596.26" y="301.90" font-size="13.08" textLength="10.82" lengthAdjust="spacingAndGlyphs">N</text>
<circle cx="588.8" cy="289.3" r="1.45" fill="none" stroke="#262626" stroke-width="0.9"/>
<text class="s" x="566.58" y="314.40" font-size="13.08" textLength="18.43" lengthAdjust="spacingAndGlyphs">22</text>
<text class="s" x="596.26" y="314.40" font-size="13.08" textLength="10.82" lengthAdjust="spacingAndGlyphs">N</text>
<circle cx="588.8" cy="301.3" r="1.45" fill="none" stroke="#262626" stroke-width="0.9"/>
</g>
<g id="p3">
<rect x="1037.8" y="95.5" width="234.7" height="214.9" fill="#fff" stroke="#262626" stroke-width="1"/>
<rect x="1285.2" y="93.1" width="23.5" height="219.5" fill="url(#jet)" stroke="#262626" stroke-width="0.6" stroke-opacity="0.8"/>
<g transform="translate(841.61 -1.91) scale(1.0030 1.0094)"><g clip-path="url(#sw)"><g filter="url(#b2)"><rect x="188" y="88" width="95" height="170" fill="#0c6cff"/><rect x="190" y="241.6" width="35.0" height="14.4" fill="#0828ff"/><rect x="190" y="90" width="24.7" height="43.4" fill="#1c9cff"/><rect x="190" y="133.4" width="24.7" height="34.4" fill="#1284ff"/><ellipse cx="232.0" cy="108.0" rx="14" ry="9" fill="#1888ff"/><ellipse cx="226.0" cy="160.0" rx="9" ry="6" fill="#1280ff"/><ellipse cx="229.1" cy="137.8" rx="12.5" ry="10" fill="#20c8ff"/><ellipse cx="201.3" cy="217.8" rx="5.5" ry="15" fill="#30e0d0"/><rect x="208" y="204" width="16" height="40" fill="#0818e0"/><ellipse cx="232.9" cy="188.4" rx="4" ry="10" fill="#90f080"/></g><g filter="url(#b1)"><ellipse cx="204.5" cy="104.8" rx="3.6" ry="6.5" fill="#e0e020"/><ellipse cx="204.5" cy="101.8" rx="2.2" ry="2.4" fill="#ff6010"/><ellipse cx="199.5" cy="121.5" rx="7.5" ry="2.4" fill="#c81000" transform="rotate(14 199.5 121.5)"/><ellipse cx="194.5" cy="120.6" rx="3" ry="2.4" fill="#b00800"/><ellipse cx="209.4" cy="125.3" rx="3.8" ry="2.6" fill="#c0f040"/><ellipse cx="220.3" cy="100.2" rx="4" ry="2" fill="#c8f030"/><ellipse cx="219.8" cy="111.6" rx="2.5" ry="4" fill="#60f0a0"/><ellipse cx="225.2" cy="107.8" rx="2.5" ry="2.5" fill="#20d0ff"/><ellipse cx="238.9" cy="115.4" rx="3" ry="3.5" fill="#20e0ff"/><ellipse cx="249.2" cy="115.8" rx="3.6" ry="2.6" fill="#40e0e0"/><ellipse cx="249.2" cy="111.3" rx="1.4" ry="1.3" fill="#ff9020"/><ellipse cx="266.1" cy="101.8" rx="4" ry="3" fill="#80f080"/><ellipse cx="223.6" cy="132.9" rx="7" ry="5.5" fill="#60f0b0"/><ellipse cx="252.0" cy="130.2" rx="3" ry="2" fill="#30d0ff"/><ellipse cx="198.5" cy="138.4" rx="2" ry="2" fill="#20d0ff"/><ellipse cx="208.9" cy="139.4" rx="2.5" ry="2.5" fill="#20d0ff"/><ellipse cx="211.0" cy="156.3" rx="2" ry="2" fill="#20d0ff"/><ellipse cx="235.0" cy="173.2" rx="4.5" ry="2.5" fill="#40e8d0"/><ellipse cx="218.7" cy="188.9" rx="6.5" ry="6.5" fill="#40f0c0"/><ellipse cx="209.4" cy="173.6" rx="3" ry="3.5" fill="#20d0ff"/><ellipse cx="200.0" cy="108.0" rx="2.5" ry="3" fill="#30d0ff"/><ellipse cx="207.0" cy="116.0" rx="3" ry="2.5" fill="#40e0d0"/></g></g><use href="#map"/></g>
<text class="b" x="1316.96" y="100.90" font-size="22.19" textLength="43.80" lengthAdjust="spacingAndGlyphs">100</text>
<text class="b" x="1317.40" y="210.65" font-size="22.19" textLength="28.65" lengthAdjust="spacingAndGlyphs">50</text>
<text class="b" x="1316.30" y="320.40" font-size="22.19" textLength="15.96" lengthAdjust="spacingAndGlyphs">0</text>
<path d="M1308.7 202.9h-3" stroke="#262626" stroke-width="1"/>
<text class="b" x="983.21" y="342.00" font-size="23.04" textLength="48.43" lengthAdjust="spacingAndGlyphs">SAT</text>
<text class="b" x="1040.93" y="342.00" font-size="23.04" textLength="46.40" lengthAdjust="spacingAndGlyphs">250</text>
<text class="b" x="1095.31" y="342.00" font-size="23.04" textLength="46.73" lengthAdjust="spacingAndGlyphs">hPa</text>
<text class="b" x="1152.68" y="342.00" font-size="23.04" textLength="35.12" lengthAdjust="spacingAndGlyphs">RH</text>
<text class="b" x="1197.71" y="342.00" font-size="23.04" textLength="119.39" lengthAdjust="spacingAndGlyphs">(Percent)</text>
<text class="s" x="1059.03" y="74.31" font-size="13.08" textLength="25.90" lengthAdjust="spacingAndGlyphs">100</text>
<text class="s" x="1097.00" y="74.31" font-size="13.08" textLength="12.87" lengthAdjust="spacingAndGlyphs">W</text>
<circle cx="1089.2" cy="61.8" r="1.45" fill="none" stroke="#262626" stroke-width="0.9"/>
<text class="s" x="1128.22" y="74.31" font-size="13.08" textLength="17.00" lengthAdjust="spacingAndGlyphs">90</text>
<text class="s" x="1157.60" y="74.31" font-size="13.08" textLength="12.87" lengthAdjust="spacingAndGlyphs">W</text>
<circle cx="1148.8" cy="61.8" r="1.45" fill="none" stroke="#262626" stroke-width="0.9"/>
<text class="s" x="1192.32" y="74.31" font-size="13.08" textLength="17.00" lengthAdjust="spacingAndGlyphs">80</text>
<text class="s" x="1222.60" y="74.31" font-size="13.08" textLength="11.98" lengthAdjust="spacingAndGlyphs">W</text>
<circle cx="1213.9" cy="61.8" r="1.45" fill="none" stroke="#262626" stroke-width="0.9"/>
<text class="s" x="1255.96" y="74.31" font-size="13.08" textLength="15.71" lengthAdjust="spacingAndGlyphs">70</text>
<text class="s" x="1285.00" y="74.31" font-size="13.08" textLength="12.87" lengthAdjust="spacingAndGlyphs">W</text>
<circle cx="1276.0" cy="61.8" r="1.45" fill="none" stroke="#262626" stroke-width="0.9"/>
<text class="s" x="988.40" y="113.00" font-size="13.08" textLength="17.90" lengthAdjust="spacingAndGlyphs">48</text>
<text class="s" x="1017.56" y="113.00" font-size="13.08" textLength="10.82" lengthAdjust="spacingAndGlyphs">N</text>
<circle cx="1010.0" cy="99.9" r="1.45" fill="none" stroke="#262626" stroke-width="0.9"/>
<text class="s" x="988.40" y="130.50" font-size="13.08" textLength="17.90" lengthAdjust="spacingAndGlyphs">46</text>
<text class="s" x="1017.56" y="130.50" font-size="13.08" textLength="10.82" lengthAdjust="spacingAndGlyphs">N</text>
<circle cx="1010.0" cy="117.4" r="1.45" fill="none" stroke="#262626" stroke-width="0.9"/>
<text class="s" x="988.40" y="147.60" font-size="13.08" textLength="17.40" lengthAdjust="spacingAndGlyphs">44</text>
<text class="s" x="1017.56" y="147.60" font-size="13.08" textLength="10.82" lengthAdjust="spacingAndGlyphs">N</text>
<circle cx="1010.0" cy="134.5" r="1.45" fill="none" stroke="#262626" stroke-width="0.9"/>
<text class="s" x="988.40" y="166.80" font-size="13.08" textLength="17.90" lengthAdjust="spacingAndGlyphs">42</text>
<text class="s" x="1017.56" y="166.80" font-size="13.08" textLength="10.82" lengthAdjust="spacingAndGlyphs">N</text>
<circle cx="1010.0" cy="153.7" r="1.45" fill="none" stroke="#262626" stroke-width="0.9"/>
<text class="s" x="988.40" y="183.00" font-size="13.08" textLength="18.16" lengthAdjust="spacingAndGlyphs">40</text>
<text class="s" x="1017.56" y="183.00" font-size="13.08" textLength="10.82" lengthAdjust="spacingAndGlyphs">N</text>
<circle cx="1010.0" cy="169.9" r="1.45" fill="none" stroke="#262626" stroke-width="0.9"/>
<text class="s" x="988.14" y="198.00" font-size="13.08" textLength="18.16" lengthAdjust="spacingAndGlyphs">38</text>
<text class="s" x="1017.56" y="198.00" font-size="13.08" textLength="10.82" lengthAdjust="spacingAndGlyphs">N</text>
<circle cx="1010.0" cy="184.9" r="1.45" fill="none" stroke="#262626" stroke-width="0.9"/>
<text class="s" x="988.14" y="214.80" font-size="13.08" textLength="18.16" lengthAdjust="spacingAndGlyphs">36</text>
<text class="s" x="1017.56" y="214.80" font-size="13.08" textLength="10.82" lengthAdjust="spacingAndGlyphs">N</text>
<circle cx="1010.0" cy="201.7" r="1.45" fill="none" stroke="#262626" stroke-width="0.9"/>
<text class="s" x="988.15" y="229.00" font-size="13.08" textLength="17.65" lengthAdjust="spacingAndGlyphs">34</text>
<text class="s" x="1017.56" y="229.00" font-size="13.08" textLength="10.82" lengthAdjust="spacingAndGlyphs">N</text>
<circle cx="1010.0" cy="215.9" r="1.45" fill="none" stroke="#262626" stroke-width="0.9"/>
<text class="s" x="988.14" y="246.00" font-size="13.08" textLength="18.16" lengthAdjust="spacingAndGlyphs">32</text>
<text class="s" x="1017.56" y="246.00" font-size="13.08" textLength="10.82" lengthAdjust="spacingAndGlyphs">N</text>
<circle cx="1010.0" cy="232.9" r="1.45" fill="none" stroke="#262626" stroke-width="0.9"/>
<text class="s" x="988.14" y="260.20" font-size="13.08" textLength="18.43" lengthAdjust="spacingAndGlyphs">30</text>
<text class="s" x="1017.56" y="260.20" font-size="13.08" textLength="10.82" lengthAdjust="spacingAndGlyphs">N</text>
<circle cx="1010.0" cy="247.1" r="1.45" fill="none" stroke="#262626" stroke-width="0.9"/>
<text class="s" x="987.88" y="275.20" font-size="13.08" textLength="18.43" lengthAdjust="spacingAndGlyphs">28</text>
<text class="s" x="1017.56" y="275.20" font-size="13.08" textLength="10.82" lengthAdjust="spacingAndGlyphs">N</text>
<circle cx="1010.0" cy="262.1" r="1.45" fill="none" stroke="#262626" stroke-width="0.9"/>
<text class="s" x="987.88" y="289.40" font-size="13.08" textLength="18.43" lengthAdjust="spacingAndGlyphs">26</text>
<text class="s" x="1017.56" y="289.40" font-size="13.08" textLength="10.82" lengthAdjust="spacingAndGlyphs">N</text>
<circle cx="1010.0" cy="276.3" r="1.45" fill="none" stroke="#262626" stroke-width="0.9"/>
<text class="s" x="987.90" y="302.10" font-size="13.08" textLength="17.90" lengthAdjust="spacingAndGlyphs">24</text>
<text class="s" x="1017.56" y="302.10" font-size="13.08" textLength="10.82" lengthAdjust="spacingAndGlyphs">N</text>
<circle cx="1010.0" cy="289.0" r="1.45" fill="none" stroke="#262626" stroke-width="0.9"/>
<text class="s" x="987.88" y="317.20" font-size="13.08" textLength="18.43" lengthAdjust="spacingAndGlyphs">22</text>
<text class="s" x="1017.56" y="317.20" font-size="13.08" textLength="10.82" lengthAdjust="spacingAndGlyphs">N</text>
<circle cx="1010.0" cy="304.1" r="1.45" fill="none" stroke="#262626" stroke-width="0.9"/>
</g>
<g id="p4">
<rect x="195.6" y="486.5" width="234.0" height="212.9" fill="#fff" stroke="#262626" stroke-width="1"/>
<rect x="441.2" y="483.1" width="23.6" height="219.5" fill="url(#jet)" stroke="#262626" stroke-width="0.6" stroke-opacity="0.8"/>
<g transform="translate(-0.00 390.00) scale(1.0000 1.0000)"><g clip-path="url(#sw)"><g filter="url(#b2)"><rect x="188" y="88" width="95" height="170" fill="#0858ff"/><rect x="190" y="90" width="24.7" height="43.4" fill="#50f0b0"/><rect x="214.7" y="90" width="44.8" height="35.2" fill="#30e8e0"/><rect x="259.5" y="90" width="20.5" height="36.0" fill="#00d8ff"/><rect x="214.7" y="125.2" width="51.3" height="25.7" fill="#1088ff"/><rect x="190" y="133.4" width="24.7" height="34.4" fill="#28a8ff"/><rect x="214.7" y="150.9" width="41.3" height="25.2" fill="#0858ff"/><rect x="190" y="167.8" width="37.3" height="32.4" fill="#0838f0"/><rect x="227.3" y="176.1" width="17.7" height="24.1" fill="#10d0ff"/><rect x="190" y="200.2" width="31.2" height="41.4" fill="#2098ff"/><rect x="190" y="241.6" width="35.0" height="14.4" fill="#0848ff"/><rect x="221.2" y="200.2" width="13.8" height="41.4" fill="#0818e0"/><ellipse cx="221.5" cy="138.0" rx="6" ry="11" fill="#60f0a0"/><ellipse cx="221.0" cy="105.0" rx="6" ry="12" fill="#50f0b0"/><ellipse cx="239.6" cy="106.0" rx="9.5" ry="11" fill="#ffe000"/><ellipse cx="216.0" cy="228.0" rx="7" ry="12" fill="#0818e0" transform="rotate(-20 216.0 228.0)"/><ellipse cx="212.0" cy="250.0" rx="6" ry="5" fill="#0010d8"/><ellipse cx="238.0" cy="172.0" rx="7" ry="5" fill="#10d0ff"/></g><g filter="url(#b1)"><ellipse cx="198.8" cy="119.4" rx="3.8" ry="2.4" fill="#900000"/><ellipse cx="202.5" cy="107.8" rx="1.6" ry="1.6" fill="#900000"/><ellipse cx="224.8" cy="106.5" rx="3.4" ry="1.8" fill="#900000"/><ellipse cx="218.8" cy="113.1" rx="2.5" ry="1.5" fill="#900000"/><ellipse cx="234.0" cy="101.0" rx="2.3" ry="2" fill="#ffa000"/><ellipse cx="240.0" cy="108.0" rx="2.2" ry="2" fill="#ffa000"/><ellipse cx="246.0" cy="112.0" rx="2.2" ry="2" fill="#ffa000"/><ellipse cx="238.0" cy="115.0" rx="2" ry="2" fill="#ffb000"/><ellipse cx="253.5" cy="130.6" rx="4.5" ry="4" fill="#40f0c0"/><ellipse cx="200.0" cy="140.0" rx="3.5" ry="3" fill="#50f0c0"/><ellipse cx="209.0" cy="137.0" rx="3" ry="2.5" fill="#50f0c0"/><ellipse cx="218.4" cy="207.6" rx="2" ry="5" fill="#60f0c0"/><ellipse cx="204.0" cy="180.0" rx="4" ry="3" fill="#1088ff"/><ellipse cx="216.0" cy="188.0" rx="4" ry="3" fill="#1080ff"/><ellipse cx="202.0" cy="193.0" rx="3" ry="2.5" fill="#1088ff"/><ellipse cx="205.0" cy="212.0" rx="5" ry="6" fill="#20e0f0"/><ellipse cx="226.0" cy="100.0" rx="3" ry="2.5" fill="#fff8e0" opacity="0.9"/></g></g><use href="#map"/></g>
<text class="b" x="473.06" y="490.90" font-size="22.19" textLength="43.80" lengthAdjust="spacingAndGlyphs">100</text>
<text class="b" x="473.50" y="600.65" font-size="22.19" textLength="28.65" lengthAdjust="spacingAndGlyphs">50</text>
<text class="b" x="472.40" y="710.40" font-size="22.19" textLength="15.96" lengthAdjust="spacingAndGlyphs">0</text>
<path d="M464.8 592.9h-3" stroke="#262626" stroke-width="1"/>
<text class="b" x="141.01" y="730.80" font-size="23.04" textLength="48.43" lengthAdjust="spacingAndGlyphs">SAT</text>
<text class="b" x="199.17" y="730.80" font-size="23.04" textLength="45.95" lengthAdjust="spacingAndGlyphs">300</text>
<text class="b" x="253.11" y="730.80" font-size="23.04" textLength="46.73" lengthAdjust="spacingAndGlyphs">hPa</text>
<text class="b" x="310.48" y="730.80" font-size="23.04" textLength="35.12" lengthAdjust="spacingAndGlyphs">RH</text>
<text class="b" x="355.51" y="730.80" font-size="23.04" textLength="119.39" lengthAdjust="spacingAndGlyphs">(Percent)</text>
<text class="s" x="214.93" y="466.70" font-size="13.08" textLength="25.90" lengthAdjust="spacingAndGlyphs">100</text>
<text class="s" x="252.90" y="466.70" font-size="13.08" textLength="12.87" lengthAdjust="spacingAndGlyphs">W</text>
<circle cx="245.1" cy="454.2" r="1.45" fill="none" stroke="#262626" stroke-width="0.9"/>
<text class="s" x="284.12" y="466.70" font-size="13.08" textLength="17.00" lengthAdjust="spacingAndGlyphs">90</text>
<text class="s" x="313.50" y="466.70" font-size="13.08" textLength="12.87" lengthAdjust="spacingAndGlyphs">W</text>
<circle cx="304.7" cy="454.2" r="1.45" fill="none" stroke="#262626" stroke-width="0.9"/>
<text class="s" x="348.22" y="466.70" font-size="13.08" textLength="17.00" lengthAdjust="spacingAndGlyphs">80</text>
<text class="s" x="378.50" y="466.70" font-size="13.08" textLength="11.98" lengthAdjust="spacingAndGlyphs">W</text>
<circle cx="369.8" cy="454.2" r="1.45" fill="none" stroke="#262626" stroke-width="0.9"/>
<text class="s" x="411.86" y="466.70" font-size="13.08" textLength="15.71" lengthAdjust="spacingAndGlyphs">70</text>
<text class="s" x="440.90" y="466.70" font-size="13.08" textLength="12.87" lengthAdjust="spacingAndGlyphs">W</text>
<circle cx="431.9" cy="454.2" r="1.45" fill="none" stroke="#262626" stroke-width="0.9"/>
<text class="s" x="146.20" y="502.90" font-size="13.08" textLength="17.90" lengthAdjust="spacingAndGlyphs">48</text>
<text class="s" x="175.36" y="502.90" font-size="13.08" textLength="10.82" lengthAdjust="spacingAndGlyphs">N</text>
<circle cx="167.9" cy="489.2" r="1.45" fill="none" stroke="#262626" stroke-width="0.9"/>
<text class="s" x="146.20" y="520.40" font-size="13.08" textLength="17.90" lengthAdjust="spacingAndGlyphs">46</text>
<text class="s" x="175.36" y="520.40" font-size="13.08" textLength="10.82" lengthAdjust="spacingAndGlyphs">N</text>
<circle cx="167.9" cy="507.9" r="1.45" fill="none" stroke="#262626" stroke-width="0.9"/>
<text class="s" x="146.20" y="537.70" font-size="13.08" textLength="17.40" lengthAdjust="spacingAndGlyphs">44</text>
<text class="s" x="175.36" y="537.70" font-size="13.08" textLength="10.82" lengthAdjust="spacingAndGlyphs">N</text>
<circle cx="167.9" cy="525.2" r="1.45" fill="none" stroke="#262626" stroke-width="0.9"/>
<text class="s" x="146.20" y="556.70" font-size="13.08" textLength="17.90" lengthAdjust="spacingAndGlyphs">42</text>
<text class="s" x="175.36" y="556.70" font-size="13.08" textLength="10.82" lengthAdjust="spacingAndGlyphs">N</text>
<circle cx="167.9" cy="543.6" r="1.45" fill="none" stroke="#262626" stroke-width="0.9"/>
<text class="s" x="146.20" y="572.80" font-size="13.08" textLength="18.16" lengthAdjust="spacingAndGlyphs">40</text>
<text class="s" x="175.36" y="572.80" font-size="13.08" textLength="10.82" lengthAdjust="spacingAndGlyphs">N</text>
<circle cx="167.9" cy="560.3" r="1.45" fill="none" stroke="#262626" stroke-width="0.9"/>
<text class="s" x="145.94" y="587.90" font-size="13.08" textLength="18.16" lengthAdjust="spacingAndGlyphs">38</text>
<text class="s" x="175.36" y="587.90" font-size="13.08" textLength="10.82" lengthAdjust="spacingAndGlyphs">N</text>
<circle cx="167.9" cy="575.6" r="1.45" fill="none" stroke="#262626" stroke-width="0.9"/>
<text class="s" x="145.94" y="604.60" font-size="13.08" textLength="18.16" lengthAdjust="spacingAndGlyphs">36</text>
<text class="s" x="175.36" y="604.60" font-size="13.08" textLength="10.82" lengthAdjust="spacingAndGlyphs">N</text>
<circle cx="167.9" cy="591.5" r="1.45" fill="none" stroke="#262626" stroke-width="0.9"/>
<text class="s" x="145.95" y="618.60" font-size="13.08" textLength="17.65" lengthAdjust="spacingAndGlyphs">34</text>
<text class="s" x="175.36" y="618.60" font-size="13.08" textLength="10.82" lengthAdjust="spacingAndGlyphs">N</text>
<circle cx="167.9" cy="606.3" r="1.45" fill="none" stroke="#262626" stroke-width="0.9"/>
<text class="s" x="145.94" y="636.10" font-size="13.08" textLength="18.16" lengthAdjust="spacingAndGlyphs">32</text>
<text class="s" x="175.36" y="636.10" font-size="13.08" textLength="10.82" lengthAdjust="spacingAndGlyphs">N</text>
<circle cx="167.9" cy="623.0" r="1.45" fill="none" stroke="#262626" stroke-width="0.9"/>
<text class="s" x="145.94" y="650.10" font-size="13.08" textLength="18.43" lengthAdjust="spacingAndGlyphs">30</text>
<text class="s" x="175.36" y="650.10" font-size="13.08" textLength="10.82" lengthAdjust="spacingAndGlyphs">N</text>
<circle cx="167.9" cy="637.5" r="1.45" fill="none" stroke="#262626" stroke-width="0.9"/>
<text class="s" x="145.68" y="663.20" font-size="13.08" textLength="18.43" lengthAdjust="spacingAndGlyphs">28</text>
<text class="s" x="175.36" y="663.20" font-size="13.08" textLength="10.82" lengthAdjust="spacingAndGlyphs">N</text>
<circle cx="167.9" cy="650.6" r="1.45" fill="none" stroke="#262626" stroke-width="0.9"/>
<text class="s" x="145.68" y="677.40" font-size="13.08" textLength="18.43" lengthAdjust="spacingAndGlyphs">26</text>
<text class="s" x="175.36" y="677.40" font-size="13.08" textLength="10.82" lengthAdjust="spacingAndGlyphs">N</text>
<circle cx="167.9" cy="664.0" r="1.45" fill="none" stroke="#262626" stroke-width="0.9"/>
<text class="s" x="145.70" y="691.90" font-size="13.08" textLength="17.90" lengthAdjust="spacingAndGlyphs">24</text>
<text class="s" x="175.36" y="691.90" font-size="13.08" textLength="10.82" lengthAdjust="spacingAndGlyphs">N</text>
<circle cx="167.9" cy="679.3" r="1.45" fill="none" stroke="#262626" stroke-width="0.9"/>
<text class="s" x="145.68" y="704.40" font-size="13.08" textLength="18.43" lengthAdjust="spacingAndGlyphs">22</text>
<text class="s" x="175.36" y="704.40" font-size="13.08" textLength="10.82" lengthAdjust="spacingAndGlyphs">N</text>
<circle cx="167.9" cy="691.3" r="1.45" fill="none" stroke="#262626" stroke-width="0.9"/>
</g>
<g id="p5">
<rect x="616.5" y="486.5" width="233.9" height="212.9" fill="#fff" stroke="#262626" stroke-width="1"/>
<rect x="862.2" y="483.1" width="23.6" height="219.5" fill="url(#jet)" stroke="#262626" stroke-width="0.6" stroke-opacity="0.8"/>
<g transform="translate(420.98 390.00) scale(0.9996 1.0000)"><g clip-path="url(#sw)"><g filter="url(#b2)"><rect x="188" y="88" width="95" height="170" fill="#0870ff"/><rect x="190" y="90" width="24.7" height="43.4" fill="#80f090"/><rect x="214.7" y="90" width="44.8" height="35.2" fill="#f0e810"/><rect x="259.5" y="90" width="20.5" height="36.0" fill="#10d0ff"/><rect x="214.7" y="125.2" width="51.3" height="25.7" fill="#20c0ff"/><rect x="190" y="133.4" width="24.7" height="34.4" fill="#20b8ff"/><rect x="214.7" y="150.9" width="41.3" height="25.2" fill="#10d0ff"/><rect x="190" y="167.8" width="37.3" height="32.4" fill="#0850ff"/><rect x="227.3" y="176.1" width="17.7" height="24.1" fill="#f0f010"/><rect x="190" y="200.2" width="31.2" height="41.4" fill="#0870ff"/><rect x="190" y="241.6" width="35.0" height="14.4" fill="#0020e0"/><rect x="221.2" y="200.2" width="13.8" height="41.4" fill="#0838f0"/><rect x="248" y="90" width="14" height="36" fill="#10a0ff"/><rect x="214.7" y="125.2" width="27" height="25.7" fill="#d0f030"/><ellipse cx="218.0" cy="185.8" rx="7" ry="6.5" fill="#a0f060"/><ellipse cx="208.0" cy="230.0" rx="12" ry="9" fill="#0838f0"/><ellipse cx="219.0" cy="156.0" rx="4" ry="5" fill="#a0f060"/></g><g filter="url(#b1)"><ellipse cx="196.8" cy="118.4" rx="2.2" ry="2.2" fill="#ff9000"/><ellipse cx="199.4" cy="105.6" rx="1.6" ry="1.5" fill="#ff9000"/><ellipse cx="205.0" cy="110.0" rx="4" ry="5" fill="#e0f020"/><ellipse cx="201.0" cy="125.0" rx="3" ry="3" fill="#20d0ff"/><ellipse cx="209.0" cy="100.0" rx="3" ry="3" fill="#30d8e0"/><ellipse cx="220.1" cy="109.4" rx="2.8" ry="2.8" fill="#ffa000"/><ellipse cx="239.2" cy="111.0" rx="1.9" ry="1.7" fill="#ff8000"/><ellipse cx="224.9" cy="109.4" rx="1.3" ry="1.3" fill="#ffffff"/><ellipse cx="232.0" cy="118.0" rx="3" ry="2" fill="#ffc000"/><ellipse cx="219.6" cy="142.8" rx="2.5" ry="2.5" fill="#ffb000"/><ellipse cx="230.0" cy="139.0" rx="3" ry="2.5" fill="#f0e020"/><ellipse cx="212.2" cy="159.2" rx="1.8" ry="5" fill="#c0f040"/><ellipse cx="236.0" cy="172.0" rx="5" ry="3" fill="#ffc000"/><ellipse cx="209.5" cy="175.2" rx="3" ry="3" fill="#20d0ff"/><ellipse cx="216.5" cy="207.0" rx="3.5" ry="6" fill="#40e0c0"/><ellipse cx="200.5" cy="213.0" rx="3.5" ry="2.5" fill="#40e0c0"/><ellipse cx="203.0" cy="145.0" rx="3" ry="4" fill="#60e8c0"/></g></g><use href="#map"/></g>
<text class="b" x="894.06" y="490.90" font-size="22.19" textLength="43.80" lengthAdjust="spacingAndGlyphs">100</text>
<text class="b" x="894.50" y="600.65" font-size="22.19" textLength="28.65" lengthAdjust="spacingAndGlyphs">50</text>
<text class="b" x="893.40" y="710.40" font-size="22.19" textLength="15.96" lengthAdjust="spacingAndGlyphs">0</text>
<path d="M885.8 592.9h-3" stroke="#262626" stroke-width="1"/>
<text class="b" x="561.21" y="730.80" font-size="23.04" textLength="48.43" lengthAdjust="spacingAndGlyphs">SAT</text>
<text class="b" x="619.37" y="730.80" font-size="23.04" textLength="45.95" lengthAdjust="spacingAndGlyphs">350</text>
<text class="b" x="673.31" y="730.80" font-size="23.04" textLength="46.73" lengthAdjust="spacingAndGlyphs">hPa</text>
<text class="b" x="730.68" y="730.80" font-size="23.04" textLength="35.12" lengthAdjust="spacingAndGlyphs">RH</text>
<text class="b" x="775.71" y="730.80" font-size="23.04" textLength="119.39" lengthAdjust="spacingAndGlyphs">(Percent)</text>
<text class="s" x="635.83" y="466.70" font-size="13.08" textLength="25.90" lengthAdjust="spacingAndGlyphs">100</text>
<text class="s" x="673.80" y="466.70" font-size="13.08" textLength="12.87" lengthAdjust="spacingAndGlyphs">W</text>
<circle cx="666.0" cy="454.2" r="1.45" fill="none" stroke="#262626" stroke-width="0.9"/>
<text class="s" x="705.02" y="466.70" font-size="13.08" textLength="17.00" lengthAdjust="spacingAndGlyphs">90</text>
<text class="s" x="734.40" y="466.70" font-size="13.08" textLength="12.87" lengthAdjust="spacingAndGlyphs">W</text>
<circle cx="725.6" cy="454.2" r="1.45" fill="none" stroke="#262626" stroke-width="0.9"/>
<text class="s" x="769.12" y="466.70" font-size="13.08" textLength="17.00" lengthAdjust="spacingAndGlyphs">80</text>
<text class="s" x="799.40" y="466.70" font-size="13.08" textLength="11.98" lengthAdjust="spacingAndGlyphs">W</text>
<circle cx="790.7" cy="454.2" r="1.45" fill="none" stroke="#262626" stroke-width="0.9"/>
<text class="s" x="832.76" y="466.70" font-size="13.08" textLength="15.71" lengthAdjust="spacingAndGlyphs">70</text>
<text class="s" x="861.80" y="466.70" font-size="13.08" textLength="12.87" lengthAdjust="spacingAndGlyphs">W</text>
<circle cx="852.8" cy="454.2" r="1.45" fill="none" stroke="#262626" stroke-width="0.9"/>
<text class="s" x="567.10" y="502.90" font-size="13.08" textLength="17.90" lengthAdjust="spacingAndGlyphs">48</text>
<text class="s" x="596.26" y="502.90" font-size="13.08" textLength="10.82" lengthAdjust="spacingAndGlyphs">N</text>
<circle cx="588.8" cy="489.2" r="1.45" fill="none" stroke="#262626" stroke-width="0.9"/>
<text class="s" x="567.10" y="520.40" font-size="13.08" textLength="17.90" lengthAdjust="spacingAndGlyphs">46</text>
<text class="s" x="596.26" y="520.40" font-size="13.08" textLength="10.82" lengthAdjust="spacingAndGlyphs">N</text>
<circle cx="588.8" cy="507.9" r="1.45" fill="none" stroke="#262626" stroke-width="0.9"/>
<text class="s" x="567.10" y="537.70" font-size="13.08" textLength="17.40" lengthAdjust="spacingAndGlyphs">44</text>
<text class="s" x="596.26" y="537.70" font-size="13.08" textLength="10.82" lengthAdjust="spacingAndGlyphs">N</text>
<circle cx="588.8" cy="525.2" r="1.45" fill="none" stroke="#262626" stroke-width="0.9"/>
<text class="s" x="567.10" y="556.70" font-size="13.08" textLength="17.90" lengthAdjust="spacingAndGlyphs">42</text>
<text class="s" x="596.26" y="556.70" font-size="13.08" textLength="10.82" lengthAdjust="spacingAndGlyphs">N</text>
<circle cx="588.8" cy="543.6" r="1.45" fill="none" stroke="#262626" stroke-width="0.9"/>
<text class="s" x="567.10" y="572.80" font-size="13.08" textLength="18.16" lengthAdjust="spacingAndGlyphs">40</text>
<text class="s" x="596.26" y="572.80" font-size="13.08" textLength="10.82" lengthAdjust="spacingAndGlyphs">N</text>
<circle cx="588.8" cy="560.3" r="1.45" fill="none" stroke="#262626" stroke-width="0.9"/>
<text class="s" x="566.84" y="587.90" font-size="13.08" textLength="18.16" lengthAdjust="spacingAndGlyphs">38</text>
<text class="s" x="596.26" y="587.90" font-size="13.08" textLength="10.82" lengthAdjust="spacingAndGlyphs">N</text>
<circle cx="588.8" cy="575.6" r="1.45" fill="none" stroke="#262626" stroke-width="0.9"/>
<text class="s" x="566.84" y="604.60" font-size="13.08" textLength="18.16" lengthAdjust="spacingAndGlyphs">36</text>
<text class="s" x="596.26" y="604.60" font-size="13.08" textLength="10.82" lengthAdjust="spacingAndGlyphs">N</text>
<circle cx="588.8" cy="591.5" r="1.45" fill="none" stroke="#262626" stroke-width="0.9"/>
<text class="s" x="566.85" y="618.60" font-size="13.08" textLength="17.65" lengthAdjust="spacingAndGlyphs">34</text>
<text class="s" x="596.26" y="618.60" font-size="13.08" textLength="10.82" lengthAdjust="spacingAndGlyphs">N</text>
<circle cx="588.8" cy="606.3" r="1.45" fill="none" stroke="#262626" stroke-width="0.9"/>
<text class="s" x="566.84" y="636.10" font-size="13.08" textLength="18.16" lengthAdjust="spacingAndGlyphs">32</text>
<text class="s" x="596.26" y="636.10" font-size="13.08" textLength="10.82" lengthAdjust="spacingAndGlyphs">N</text>
<circle cx="588.8" cy="623.0" r="1.45" fill="none" stroke="#262626" stroke-width="0.9"/>
<text class="s" x="566.84" y="650.10" font-size="13.08" textLength="18.43" lengthAdjust="spacingAndGlyphs">30</text>
<text class="s" x="596.26" y="650.10" font-size="13.08" textLength="10.82" lengthAdjust="spacingAndGlyphs">N</text>
<circle cx="588.8" cy="637.5" r="1.45" fill="none" stroke="#262626" stroke-width="0.9"/>
<text class="s" x="566.58" y="663.20" font-size="13.08" textLength="18.43" lengthAdjust="spacingAndGlyphs">28</text>
<text class="s" x="596.26" y="663.20" font-size="13.08" textLength="10.82" lengthAdjust="spacingAndGlyphs">N</text>
<circle cx="588.8" cy="650.6" r="1.45" fill="none" stroke="#262626" stroke-width="0.9"/>
<text class="s" x="566.58" y="677.40" font-size="13.08" textLength="18.43" lengthAdjust="spacingAndGlyphs">26</text>
<text class="s" x="596.26" y="677.40" font-size="13.08" textLength="10.82" lengthAdjust="spacingAndGlyphs">N</text>
<circle cx="588.8" cy="664.0" r="1.45" fill="none" stroke="#262626" stroke-width="0.9"/>
<text class="s" x="566.60" y="691.90" font-size="13.08" textLength="17.90" lengthAdjust="spacingAndGlyphs">24</text>
<text class="s" x="596.26" y="691.90" font-size="13.08" textLength="10.82" lengthAdjust="spacingAndGlyphs">N</text>
<circle cx="588.8" cy="679.3" r="1.45" fill="none" stroke="#262626" stroke-width="0.9"/>
<text class="s" x="566.58" y="704.40" font-size="13.08" textLength="18.43" lengthAdjust="spacingAndGlyphs">22</text>
<text class="s" x="596.26" y="704.40" font-size="13.08" textLength="10.82" lengthAdjust="spacingAndGlyphs">N</text>
<circle cx="588.8" cy="691.3" r="1.45" fill="none" stroke="#262626" stroke-width="0.9"/>
</g>
<g id="p6">
<rect x="1037.8" y="485.5" width="234.7" height="214.9" fill="#fff" stroke="#262626" stroke-width="1"/>
<rect x="1285.2" y="483.1" width="23.5" height="219.5" fill="url(#jet)" stroke="#262626" stroke-width="0.6" stroke-opacity="0.8"/>
<g transform="translate(841.61 388.09) scale(1.0030 1.0094)"><g clip-path="url(#sw)"><g filter="url(#b2)"><rect x="188" y="88" width="95" height="170" fill="#0860ff"/><rect x="190" y="90" width="24.7" height="43.4" fill="#80f090"/><rect x="214.7" y="90" width="44.8" height="35.2" fill="#f8e808"/><rect x="259.5" y="90" width="20.5" height="36.0" fill="#80f080"/><rect x="214.7" y="125.2" width="51.3" height="25.7" fill="#50e8c0"/><rect x="190" y="133.4" width="24.7" height="34.4" fill="#50f0b0"/><rect x="214.7" y="150.9" width="41.3" height="25.2" fill="#b0f050"/><rect x="190" y="167.8" width="37.3" height="32.4" fill="#0860ff"/><rect x="227.3" y="176.1" width="17.7" height="24.1" fill="#20d0ff"/><rect x="190" y="200.2" width="31.2" height="41.4" fill="#0818f0"/><rect x="190" y="241.6" width="35.0" height="14.4" fill="#0000d0"/><rect x="221.2" y="200.2" width="13.8" height="41.4" fill="#0818f0"/><rect x="244" y="90" width="16" height="36" fill="#60f0c0"/><rect x="214.7" y="125.2" width="26" height="25.7" fill="#d0f030"/><rect x="190" y="150" width="24.7" height="18" fill="#10d0ff"/><ellipse cx="205.0" cy="205.0" rx="10" ry="5" fill="#0840ff"/><ellipse cx="219.0" cy="156.0" rx="5" ry="5" fill="#60f0a0"/><ellipse cx="232.0" cy="114.0" rx="9" ry="10" fill="#ffc820"/><ellipse cx="231.0" cy="134.0" rx="7" ry="9" fill="#ffd020"/></g><g filter="url(#b1)"><ellipse cx="226.8" cy="106.3" rx="3.4" ry="3.2" fill="#ffffff"/><ellipse cx="231.0" cy="104.0" rx="2.5" ry="1.2" fill="#ffffff" transform="rotate(30 231.0 104.0)"/><ellipse cx="233.3" cy="119.0" rx="6.5" ry="4" fill="#ff9000"/><ellipse cx="231.6" cy="135.4" rx="4.6" ry="8" fill="#ffa000"/><ellipse cx="205.0" cy="112.0" rx="4.5" ry="6" fill="#c0f040"/><ellipse cx="200.0" cy="100.0" rx="3" ry="3" fill="#40e0d0"/><ellipse cx="196.0" cy="98.0" rx="2.5" ry="6" fill="#0020c0"/><ellipse cx="200.0" cy="140.0" rx="3" ry="5" fill="#c0f040"/><ellipse cx="222.0" cy="185.0" rx="5.5" ry="5.5" fill="#10c8ff"/><ellipse cx="204.0" cy="176.0" rx="3" ry="2.5" fill="#10c0ff"/><ellipse cx="240.0" cy="165.0" rx="6" ry="6" fill="#d8f030"/><ellipse cx="252.0" cy="140.0" rx="5" ry="6" fill="#50e8d0"/></g></g><use href="#map"/></g>
<text class="b" x="1316.96" y="490.90" font-size="22.19" textLength="43.80" lengthAdjust="spacingAndGlyphs">100</text>
<text class="b" x="1317.40" y="600.65" font-size="22.19" textLength="28.65" lengthAdjust="spacingAndGlyphs">50</text>
<text class="b" x="1316.30" y="710.40" font-size="22.19" textLength="15.96" lengthAdjust="spacingAndGlyphs">0</text>
<path d="M1308.7 592.9h-3" stroke="#262626" stroke-width="1"/>
<text class="b" x="983.21" y="732.00" font-size="23.04" textLength="48.43" lengthAdjust="spacingAndGlyphs">SAT</text>
<text class="b" x="1041.80" y="732.00" font-size="23.04" textLength="45.51" lengthAdjust="spacingAndGlyphs">400</text>
<text class="b" x="1095.31" y="732.00" font-size="23.04" textLength="46.73" lengthAdjust="spacingAndGlyphs">hPa</text>
<text class="b" x="1152.68" y="732.00" font-size="23.04" textLength="35.12" lengthAdjust="spacingAndGlyphs">RH</text>
<text class="b" x="1197.71" y="732.00" font-size="23.04" textLength="119.39" lengthAdjust="spacingAndGlyphs">(Percent)</text>
<text class="s" x="1059.03" y="464.31" font-size="13.08" textLength="25.90" lengthAdjust="spacingAndGlyphs">100</text>
<text class="s" x="1097.00" y="464.31" font-size="13.08" textLength="12.87" lengthAdjust="spacingAndGlyphs">W</text>
<circle cx="1089.2" cy="451.8" r="1.45" fill="none" stroke="#262626" stroke-width="0.9"/>
<text class="s" x="1128.22" y="464.31" font-size="13.08" textLength="17.00" lengthAdjust="spacingAndGlyphs">90</text>
<text class="s" x="1157.60" y="464.31" font-size="13.08" textLength="12.87" lengthAdjust="spacingAndGlyphs">W</text>
<circle cx="1148.8" cy="451.8" r="1.45" fill="none" stroke="#262626" stroke-width="0.9"/>
<text class="s" x="1192.32" y="464.31" font-size="13.08" textLength="17.00" lengthAdjust="spacingAndGlyphs">80</text>
<text class="s" x="1222.60" y="464.31" font-size="13.08" textLength="11.98" lengthAdjust="spacingAndGlyphs">W</text>
<circle cx="1213.9" cy="451.8" r="1.45" fill="none" stroke="#262626" stroke-width="0.9"/>
<text class="s" x="1255.96" y="464.31" font-size="13.08" textLength="15.71" lengthAdjust="spacingAndGlyphs">70</text>
<text class="s" x="1285.00" y="464.31" font-size="13.08" textLength="12.87" lengthAdjust="spacingAndGlyphs">W</text>
<circle cx="1276.0" cy="451.8" r="1.45" fill="none" stroke="#262626" stroke-width="0.9"/>
<text class="s" x="988.40" y="502.30" font-size="13.08" textLength="17.90" lengthAdjust="spacingAndGlyphs">48</text>
<text class="s" x="1017.56" y="502.30" font-size="13.08" textLength="10.82" lengthAdjust="spacingAndGlyphs">N</text>
<circle cx="1010.0" cy="489.2" r="1.45" fill="none" stroke="#262626" stroke-width="0.9"/>
<text class="s" x="988.40" y="519.80" font-size="13.08" textLength="17.90" lengthAdjust="spacingAndGlyphs">46</text>
<text class="s" x="1017.56" y="519.80" font-size="13.08" textLength="10.82" lengthAdjust="spacingAndGlyphs">N</text>
<circle cx="1010.0" cy="506.7" r="1.45" fill="none" stroke="#262626" stroke-width="0.9"/>
<text class="s" x="988.40" y="536.90" font-size="13.08" textLength="17.40" lengthAdjust="spacingAndGlyphs">44</text>
<text class="s" x="1017.56" y="536.90" font-size="13.08" textLength="10.82" lengthAdjust="spacingAndGlyphs">N</text>
<circle cx="1010.0" cy="523.8" r="1.45" fill="none" stroke="#262626" stroke-width="0.9"/>
<text class="s" x="988.40" y="556.10" font-size="13.08" textLength="17.90" lengthAdjust="spacingAndGlyphs">42</text>
<text class="s" x="1017.56" y="556.10" font-size="13.08" textLength="10.82" lengthAdjust="spacingAndGlyphs">N</text>
<circle cx="1010.0" cy="543.0" r="1.45" fill="none" stroke="#262626" stroke-width="0.9"/>
<text class="s" x="988.40" y="572.30" font-size="13.08" textLength="18.16" lengthAdjust="spacingAndGlyphs">40</text>
<text class="s" x="1017.56" y="572.30" font-size="13.08" textLength="10.82" lengthAdjust="spacingAndGlyphs">N</text>
<circle cx="1010.0" cy="559.2" r="1.45" fill="none" stroke="#262626" stroke-width="0.9"/>
<text class="s" x="988.14" y="587.30" font-size="13.08" textLength="18.16" lengthAdjust="spacingAndGlyphs">38</text>
<text class="s" x="1017.56" y="587.30" font-size="13.08" textLength="10.82" lengthAdjust="spacingAndGlyphs">N</text>
<circle cx="1010.0" cy="574.2" r="1.45" fill="none" stroke="#262626" stroke-width="0.9"/>
<text class="s" x="988.14" y="604.10" font-size="13.08" textLength="18.16" lengthAdjust="spacingAndGlyphs">36</text>
<text class="s" x="1017.56" y="604.10" font-size="13.08" textLength="10.82" lengthAdjust="spacingAndGlyphs">N</text>
<circle cx="1010.0" cy="591.0" r="1.45" fill="none" stroke="#262626" stroke-width="0.9"/>
<text class="s" x="988.15" y="618.30" font-size="13.08" textLength="17.65" lengthAdjust="spacingAndGlyphs">34</text>
<text class="s" x="1017.56" y="618.30" font-size="13.08" textLength="10.82" lengthAdjust="spacingAndGlyphs">N</text>
<circle cx="1010.0" cy="605.2" r="1.45" fill="none" stroke="#262626" stroke-width="0.9"/>
<text class="s" x="988.14" y="635.30" font-size="13.08" textLength="18.16" lengthAdjust="spacingAndGlyphs">32</text>
<text class="s" x="1017.56" y="635.30" font-size="13.08" textLength="10.82" lengthAdjust="spacingAndGlyphs">N</text>
<circle cx="1010.0" cy="622.2" r="1.45" fill="none" stroke="#262626" stroke-width="0.9"/>
<text class="s" x="988.14" y="649.50" font-size="13.08" textLength="18.43" lengthAdjust="spacingAndGlyphs">30</text>
<text class="s" x="1017.56" y="649.50" font-size="13.08" textLength="10.82" lengthAdjust="spacingAndGlyphs">N</text>
<circle cx="1010.0" cy="636.4" r="1.45" fill="none" stroke="#262626" stroke-width="0.9"/>
<text class="s" x="987.88" y="664.50" font-size="13.08" textLength="18.43" lengthAdjust="spacingAndGlyphs">28</text>
<text class="s" x="1017.56" y="664.50" font-size="13.08" textLength="10.82" lengthAdjust="spacingAndGlyphs">N</text>
<circle cx="1010.0" cy="651.4" r="1.45" fill="none" stroke="#262626" stroke-width="0.9"/>
<text class="s" x="987.88" y="678.70" font-size="13.08" textLength="18.43" lengthAdjust="spacingAndGlyphs">26</text>
<text class="s" x="1017.56" y="678.70" font-size="13.08" textLength="10.82" lengthAdjust="spacingAndGlyphs">N</text>
<circle cx="1010.0" cy="665.6" r="1.45" fill="none" stroke="#262626" stroke-width="0.9"/>
<text class="s" x="987.90" y="691.40" font-size="13.08" textLength="17.90" lengthAdjust="spacingAndGlyphs">24</text>
<text class="s" x="1017.56" y="691.40" font-size="13.08" textLength="10.82" lengthAdjust="spacingAndGlyphs">N</text>
<circle cx="1010.0" cy="678.3" r="1.45" fill="none" stroke="#262626" stroke-width="0.9"/>
<text class="s" x="987.88" y="706.50" font-size="13.08" textLength="18.43" lengthAdjust="spacingAndGlyphs">22</text>
<text class="s" x="1017.56" y="706.50" font-size="13.08" textLength="10.82" lengthAdjust="spacingAndGlyphs">N</text>
<circle cx="1010.0" cy="693.4" r="1.45" fill="none" stroke="#262626" stroke-width="0.9"/>
</g>
</g></svg></body></html>
